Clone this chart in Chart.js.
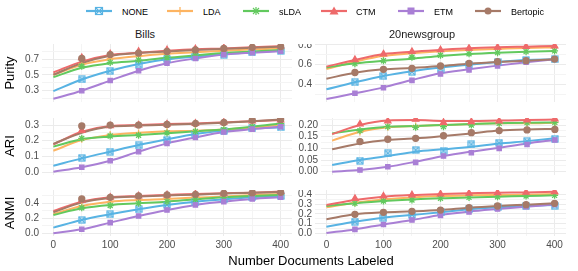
<!DOCTYPE html>
<html>
<head>
<meta charset="utf-8">
<script src="https://cdn.jsdelivr.net/npm/chart.js@4.4.1/dist/chart.umd.min.js"></script>
<style>
  body { margin: 0; width: 578px; height: 271px; background: #fff; position: relative; overflow: hidden;
         font-family: "Liberation Sans", Arial, sans-serif; }
  canvas { position: absolute; }
  .txt { position: absolute; white-space: nowrap; color: #000; line-height: 1; }
  .strip { font-size: 11px; color: #1a1a1a; transform: translate(-50%, -50%); }
  .rowlab { font-size: 13px; transform: translate(-50%, -50%) rotate(-90deg); }
  .xtitle { font-size: 13px; transform: translate(-50%, -50%); }
  .leg { position: absolute; font-size: 9px; color: #000; transform: translateY(-50%); }
  .legicon { position: absolute; transform: translateY(-50%); }
</style>
</head>
<body>
<script>
// x positions
const xSmooth = [0, 50, 100, 150, 200, 250, 300, 350, 400];
const xPoints = [50, 100, 150, 200, 250, 300, 350, 400];
const xTicks = [0, 100, 200, 300, 400];
const xMinor = [50, 150, 250, 350];

const methods = ['NONE', 'LDA', 'sLDA', 'CTM', 'ETM', 'Bertopic'];
const colors = ['#58B3E3', '#FDB462', '#62C95E', '#EE6A6B', '#A97FD5', '#A67A68'];

// rows: NONE, LDA, sLDA, CTM, ETM, Bertopic
const billsPuritySmooth = [
  [0.29, 0.44, 0.553, 0.64, 0.70, 0.735, 0.765, 0.79, 0.81],
  [0.50, 0.63, 0.70, 0.74, 0.77, 0.79, 0.81, 0.83, 0.84],
  [0.47, 0.59, 0.65, 0.68, 0.72, 0.75, 0.78, 0.80, 0.82],
  [0.53, 0.67, 0.755, 0.785, 0.81, 0.83, 0.84, 0.855, 0.868],
  [0.19, 0.295, 0.425, 0.553, 0.65, 0.71, 0.76, 0.785, 0.805],
  [0.50, 0.65, 0.745, 0.78, 0.80, 0.82, 0.835, 0.85, 0.862]
];
const billsPurityPoints = [
  [0.44, 0.55, 0.63, 0.70, 0.735, 0.76, 0.79, 0.81],
  [0.64, 0.71, 0.74, 0.77, 0.79, 0.81, 0.83, 0.84],
  [0.61, 0.66, 0.69, 0.72, 0.75, 0.78, 0.80, 0.82],
  [0.72, 0.77, 0.80, 0.82, 0.835, 0.845, 0.86, 0.87],
  [0.295, 0.425, 0.553, 0.65, 0.71, 0.76, 0.785, 0.805],
  [0.71, 0.76, 0.78, 0.80, 0.82, 0.84, 0.855, 0.865]
];
const newsPuritySmooth = [
  [0.349, 0.42, 0.484, 0.532, 0.57, 0.60, 0.627, 0.647, 0.654],
  [0.556, 0.63, 0.69, 0.715, 0.735, 0.75, 0.76, 0.77, 0.775],
  [0.57, 0.613, 0.64, 0.66, 0.688, 0.708, 0.722, 0.732, 0.74],
  [0.58, 0.647, 0.708, 0.732, 0.75, 0.766, 0.776, 0.783, 0.79],
  [0.25, 0.308, 0.369, 0.444, 0.512, 0.552, 0.59, 0.624, 0.654],
  [0.457, 0.518, 0.552, 0.566, 0.586, 0.61, 0.627, 0.64, 0.654]
];
const newsPurityPoints = [
  [0.42, 0.484, 0.526, 0.56, 0.60, 0.627, 0.647, 0.654],
  [0.63, 0.69, 0.715, 0.735, 0.75, 0.76, 0.77, 0.775],
  [0.61, 0.64, 0.675, 0.695, 0.71, 0.722, 0.732, 0.74],
  [0.65, 0.708, 0.732, 0.75, 0.766, 0.776, 0.783, 0.79],
  [0.308, 0.366, 0.44, 0.505, 0.547, 0.587, 0.624, 0.654],
  [0.52, 0.552, 0.563, 0.586, 0.613, 0.63, 0.64, 0.657]
];
const billsAriSmooth = [
  [0.04, 0.087, 0.13, 0.172, 0.209, 0.243, 0.264, 0.279, 0.285],
  [0.136, 0.204, 0.236, 0.251, 0.26, 0.264, 0.272, 0.285, 0.30],
  [0.162, 0.209, 0.226, 0.236, 0.247, 0.26, 0.272, 0.289, 0.31],
  [0.177, 0.257, 0.294, 0.30, 0.306, 0.31, 0.317, 0.325, 0.332],
  [0.002, 0.03, 0.072, 0.13, 0.183, 0.221, 0.255, 0.274, 0.289],
  [0.18, 0.25, 0.29, 0.297, 0.302, 0.308, 0.315, 0.325, 0.335]
];
const billsAriPoints = [
  [0.09, 0.13, 0.17, 0.205, 0.24, 0.262, 0.278, 0.285],
  [0.21, 0.24, 0.25, 0.26, 0.265, 0.272, 0.285, 0.30],
  [0.215, 0.23, 0.235, 0.25, 0.26, 0.27, 0.29, 0.31],
  [0.265, 0.295, 0.30, 0.306, 0.31, 0.317, 0.325, 0.332],
  [0.03, 0.072, 0.13, 0.183, 0.221, 0.255, 0.274, 0.289],
  [0.294, 0.30, 0.30, 0.304, 0.31, 0.317, 0.332, 0.336]
];
const newsAriSmooth = [
  [0.029, 0.05, 0.067, 0.086, 0.096, 0.107, 0.121, 0.131, 0.143],
  [0.133, 0.171, 0.19, 0.196, 0.2, 0.204, 0.207, 0.207, 0.21],
  [0.164, 0.181, 0.193, 0.196, 0.2, 0.204, 0.207, 0.21, 0.211],
  [0.161, 0.2, 0.219, 0.221, 0.217, 0.217, 0.219, 0.221, 0.224],
  [0.0, 0.007, 0.021, 0.043, 0.067, 0.086, 0.103, 0.121, 0.136],
  [0.096, 0.121, 0.136, 0.143, 0.153, 0.164, 0.176, 0.181, 0.183]
];
const newsAriPoints = [
  [0.047, 0.079, 0.093, 0.09, 0.117, 0.124, 0.131, 0.141],
  [0.17, 0.19, 0.196, 0.2, 0.204, 0.207, 0.207, 0.21],
  [0.176, 0.193, 0.19, 0.193, 0.2, 0.207, 0.21, 0.211],
  [0.204, 0.217, 0.224, 0.211, 0.214, 0.217, 0.221, 0.226],
  [0.007, 0.021, 0.04, 0.067, 0.081, 0.1, 0.117, 0.136],
  [0.129, 0.139, 0.143, 0.154, 0.167, 0.176, 0.179, 0.181]
];
const billsAnmiSmooth = [
  [0.076, 0.178, 0.253, 0.32, 0.378, 0.422, 0.453, 0.48, 0.498],
  [0.258, 0.364, 0.422, 0.444, 0.458, 0.476, 0.489, 0.511, 0.524],
  [0.244, 0.333, 0.378, 0.40, 0.422, 0.453, 0.48, 0.498, 0.511],
  [0.298, 0.422, 0.48, 0.498, 0.511, 0.524, 0.533, 0.542, 0.556],
  [0.0, 0.053, 0.142, 0.231, 0.311, 0.378, 0.422, 0.458, 0.48],
  [0.28, 0.41, 0.47, 0.49, 0.505, 0.515, 0.53, 0.54, 0.55]
];
const billsAnmiPoints = [
  [0.178, 0.253, 0.32, 0.378, 0.422, 0.453, 0.48, 0.498],
  [0.364, 0.42, 0.444, 0.458, 0.476, 0.489, 0.511, 0.524],
  [0.34, 0.37, 0.40, 0.422, 0.453, 0.48, 0.498, 0.511],
  [0.44, 0.48, 0.498, 0.511, 0.524, 0.533, 0.542, 0.556],
  [0.053, 0.142, 0.231, 0.311, 0.378, 0.422, 0.458, 0.48],
  [0.458, 0.48, 0.498, 0.511, 0.52, 0.533, 0.542, 0.547]
];
const newsAnmiSmooth = [
  [0.066, 0.118, 0.16, 0.188, 0.216, 0.247, 0.268, 0.282, 0.292],
  [0.268, 0.317, 0.351, 0.372, 0.386, 0.393, 0.397, 0.40, 0.407],
  [0.282, 0.31, 0.334, 0.351, 0.362, 0.372, 0.379, 0.386, 0.393],
  [0.292, 0.344, 0.379, 0.397, 0.407, 0.414, 0.421, 0.424, 0.431],
  [0.0, 0.038, 0.09, 0.136, 0.188, 0.223, 0.25, 0.275, 0.299],
  [0.143, 0.195, 0.216, 0.226, 0.24, 0.264, 0.282, 0.296, 0.31]
];
const newsAnmiPoints = [
  [0.118, 0.16, 0.188, 0.216, 0.247, 0.268, 0.282, 0.285],
  [0.317, 0.351, 0.372, 0.386, 0.393, 0.397, 0.40, 0.407],
  [0.31, 0.334, 0.345, 0.362, 0.372, 0.379, 0.386, 0.393],
  [0.36, 0.385, 0.397, 0.407, 0.414, 0.421, 0.424, 0.431],
  [0.038, 0.09, 0.136, 0.184, 0.22, 0.25, 0.275, 0.299],
  [0.195, 0.216, 0.226, 0.24, 0.264, 0.282, 0.296, 0.31]
];

// y tick labels (major) and minor grid values
const billsPurityTicks = [0.3, 0.5, 0.7];
const billsPurityMinor = [0.2, 0.4, 0.6, 0.8];
const newsPurityTicks = [0.4, 0.6, 0.8];
const newsPurityMinor = [0.3, 0.5, 0.7];
const billsAriTicks = [0.0, 0.1, 0.2, 0.3];
const billsAriMinor = [0.05, 0.15, 0.25];
const newsAriTicks = [0.0, 0.05, 0.10, 0.15, 0.20];
const newsAriMinor = [0.025, 0.075, 0.125, 0.175, 0.225];
const billsAnmiTicks = [0.0, 0.2, 0.4];
const billsAnmiMinor = [0.1, 0.3, 0.5];
const newsAnmiTicks = [0.0, 0.1, 0.2, 0.3, 0.4];
const newsAnmiMinor = [0.05, 0.15, 0.25, 0.35];

const FONT = '"Liberation Sans", Arial, sans-serif';
const TICK_COLOR = '#4D4D4D';
const GRID_MAJOR = '#EBEBEB';
const GRID_MINOR = '#F4F4F4';
const X_AXIS_H = 16;

function squareCross(color, size) {
  const c = document.createElement('canvas');
  c.width = size; c.height = size;
  const g = c.getContext('2d');
  g.strokeStyle = color;
  g.lineWidth = 1.2;
  g.strokeRect(1, 1, size - 2, size - 2);
  g.beginPath();
  g.moveTo(1, 1); g.lineTo(size - 1, size - 1);
  g.moveTo(size - 1, 1); g.lineTo(1, size - 1);
  g.stroke();
  return c;
}

const pointStyles = [squareCross(colors[0], 8), 'cross', 'star', 'triangle', 'rect', 'circle'];
const pointRadius = [4, 3.5, 3.5, 3.6, 3, 3];

const has = (list, v) => list.some(m => Math.abs(m - v) < 1e-9);

function drawPanel(p) {
  const w = p.axisW + p.right - p.left;
  const h = p.bottom - p.top + (p.showX ? X_AXIS_H : 0);
  const cv = document.createElement('canvas');
  cv.width = w; cv.height = h;
  cv.style.left = (p.left - p.axisW) + 'px';
  cv.style.top = p.top + 'px';
  cv.style.width = w + 'px';
  cv.style.height = h + 'px';
  document.body.appendChild(cv);

  const datasets = [];
  p.smooth.forEach((vals, i) => {
    datasets.push({
      data: xSmooth.map((x, k) => ({ x, y: vals[k] })),
      borderColor: colors[i],
      borderWidth: 2,
      pointRadius: 0,
      cubicInterpolationMode: 'monotone',
      order: 100 - i
    });
  });
  p.points.forEach((vals, i) => {
    datasets.push({
      data: xPoints.map((x, k) => ({ x, y: vals[k] })),
      showLine: false,
      pointStyle: pointStyles[i],
      pointRadius: pointRadius[i],
      pointBackgroundColor: colors[i],
      pointBorderColor: colors[i],
      pointBorderWidth: 1.3,
      order: 50 - i
    });
  });

  const yAll = p.ticks.concat(p.minor).sort((a, b) => a - b);
  const xAll = xTicks.concat(xMinor).sort((a, b) => a - b);

  new Chart(cv, {
    type: 'line',
    data: { datasets },
    options: {
      responsive: false,
      animation: false,
      devicePixelRatio: 1,
      layout: { padding: 0, autoPadding: false },
      plugins: { legend: { display: false }, tooltip: { enabled: false } },
      scales: {
        x: {
          type: 'linear', min: -20, max: 420,
          afterBuildTicks: s => { s.ticks = xAll.map(v => ({ value: v })); },
          ticks: {
            display: p.showX,
            autoSkip: false, maxRotation: 0,
            padding: 3,
            color: TICK_COLOR,
            font: { family: FONT, size: 10 },
            callback: v => has(xTicks, v) ? String(v) : ''
          },
          grid: {
            drawTicks: false,
            color: ctx => has(xMinor, ctx.tick.value) ? GRID_MINOR : GRID_MAJOR,
            lineWidth: 1
          },
          border: { display: false },
          afterFit: s => {
            s.height = p.showX ? X_AXIS_H : 0;
            s.paddingLeft = 0; s.paddingRight = 0;
          }
        },
        y: {
          type: 'linear', min: p.yMin, max: p.yMax,
          afterBuildTicks: s => { s.ticks = yAll.map(v => ({ value: v })); },
          ticks: {
            autoSkip: false,
            padding: 3,
            color: TICK_COLOR,
            font: { family: FONT, size: 10 },
            callback: v => has(p.ticks, v) ? v.toFixed(p.dec) : ''
          },
          grid: {
            drawTicks: false,
            color: ctx => has(p.minor, ctx.tick.value) ? GRID_MINOR : GRID_MAJOR,
            lineWidth: 1
          },
          border: { display: false },
          afterFit: s => {
            s.width = p.axisW;
            s.paddingTop = 0; s.paddingBottom = 0;
          }
        }
      }
    }
  });
}

// left column (Bills) and right column (20newsgroup)
drawPanel({ left: 42, right: 292, top: 44, bottom: 102, axisW: 42, showX: false, yMin: 0.149, yMax: 0.897, dec: 1,
  ticks: billsPurityTicks, minor: billsPurityMinor, smooth: billsPuritySmooth, points: billsPurityPoints });
drawPanel({ left: 315, right: 566, top: 44, bottom: 102, axisW: 25, showX: false, yMin: 0.22, yMax: 0.81, dec: 1,
  ticks: newsPurityTicks, minor: newsPurityMinor, smooth: newsPuritySmooth, points: newsPurityPoints });
drawPanel({ left: 42, right: 292, top: 118, bottom: 175, axisW: 42, showX: false, yMin: -0.019, yMax: 0.345, dec: 1,
  ticks: billsAriTicks, minor: billsAriMinor, smooth: billsAriSmooth, points: billsAriPoints });
drawPanel({ left: 321, right: 566, top: 118, bottom: 175, axisW: 31, showX: false, yMin: -0.014, yMax: 0.23, dec: 2,
  ticks: newsAriTicks, minor: newsAriMinor, smooth: newsAriSmooth, points: newsAriPoints });
drawPanel({ left: 42, right: 292, top: 190, bottom: 236, axisW: 42, showX: true, yMin: -0.036, yMax: 0.577, dec: 1,
  ticks: billsAnmiTicks, minor: billsAnmiMinor, smooth: billsAnmiSmooth, points: billsAnmiPoints });
drawPanel({ left: 315, right: 566, top: 190, bottom: 236, axisW: 25, showX: true, yMin: -0.031, yMax: 0.449, dec: 1,
  ticks: newsAnmiTicks, minor: newsAnmiMinor, smooth: newsAnmiSmooth, points: newsAnmiPoints });

function addText(cls, text, x, y) {
  const d = document.createElement('div');
  d.className = 'txt ' + cls;
  d.textContent = text;
  d.style.left = x + 'px';
  d.style.top = y + 'px';
  document.body.appendChild(d);
}

addText('strip', 'Bills', 145, 34);
addText('strip', '20newsgroup', 422, 34);
addText('rowlab', 'Purity', 9, 73);
addText('rowlab', 'ARI', 9, 146);
addText('rowlab', 'ANMI', 9, 213);
addText('xtitle', 'Number Documents Labeled', 311, 260);

// legend
const legIconX = [86, 167, 243, 321, 398, 475];
const legTextX = [122, 203, 279, 356, 434, 511];
function markerSvg(i, c) {
  const cx = 13, cy = 6;
  switch (i) {
    case 0: return `<rect x="${cx-3.5}" y="${cy-3.5}" width="7" height="7" fill="none" stroke="${c}" stroke-width="1.2"/>
      <path d="M${cx-3.5} ${cy-3.5}L${cx+3.5} ${cy+3.5}M${cx+3.5} ${cy-3.5}L${cx-3.5} ${cy+3.5}" stroke="${c}" stroke-width="1.2"/>`;
    case 1: return `<path d="M${cx-4} ${cy}H${cx+4}M${cx} ${cy-4}V${cy+4}" stroke="${c}" stroke-width="1.3"/>`;
    case 2: return `<path d="M${cx-4} ${cy}H${cx+4}M${cx} ${cy-4}V${cy+4}M${cx-3} ${cy-3}L${cx+3} ${cy+3}M${cx+3} ${cy-3}L${cx-3} ${cy+3}" stroke="${c}" stroke-width="1.2"/>`;
    case 3: return `<path d="M${cx} ${cy-4.5}L${cx+4.5} ${cy+3.5}H${cx-4.5}Z" fill="${c}"/>`;
    case 4: return `<rect x="${cx-3.5}" y="${cy-3.5}" width="7" height="7" fill="${c}"/>`;
    default: return `<circle cx="${cx}" cy="${cy}" r="3.5" fill="${c}"/>`;
  }
}
methods.forEach((m, i) => {
  const s = document.createElement('div');
  s.className = 'legicon';
  s.style.left = legIconX[i] + 'px';
  s.style.top = '12px';
  s.innerHTML = `<svg width="26" height="12" viewBox="0 0 26 12">
    <line x1="0" y1="6" x2="26" y2="6" stroke="${colors[i]}" stroke-width="2.2"/>${markerSvg(i, colors[i])}</svg>`;
  document.body.appendChild(s);
  const t = document.createElement('div');
  t.className = 'leg';
  t.textContent = m;
  t.style.left = legTextX[i] + 'px';
  t.style.top = '12px';
  document.body.appendChild(t);
});
</script>
</body>
</html>
